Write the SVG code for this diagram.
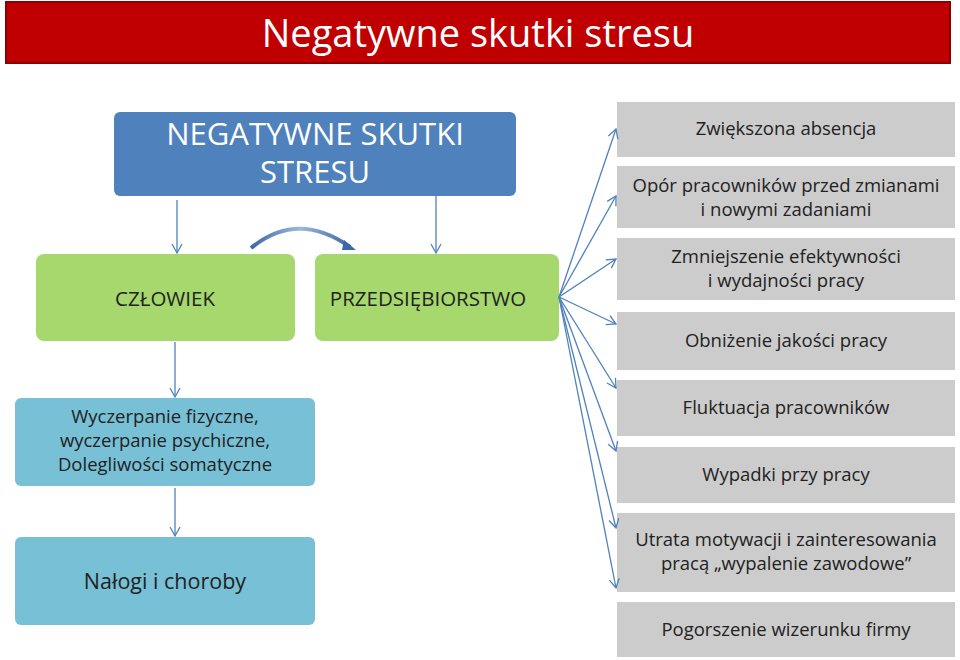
<svg xmlns="http://www.w3.org/2000/svg" width="960" height="660" viewBox="0 0 960 660">
<defs>
<style>
text{font-family:"Open Sans","Liberation Sans",sans-serif;text-anchor:middle}
.g rect{fill:#cccccc}
.g text{font-size:18.5px;fill:#222}
.c line{stroke:#4f81bd;stroke-width:1.3;fill:none}
</style>
<marker id="a" markerWidth="12" markerHeight="12" refX="10" refY="6" orient="auto" markerUnits="userSpaceOnUse"><path d="M1,1 L10,6 L1,11" fill="none" stroke="#4f81bd" stroke-width="1.3"/></marker>
<linearGradient id="cg" x1="0" x2="1"><stop offset="0" stop-color="#3a68a8"/><stop offset="0.5" stop-color="#9fb8da"/><stop offset="1" stop-color="#3a68a8"/></linearGradient>
</defs>
<rect x="6" y="2" width="944" height="61" fill="#c00000" stroke="#8b0000" stroke-width="2"/>
<text x="478" y="47" font-size="38" fill="#fff">Negatywne skutki stresu</text>
<g id="n-main"><rect x="114" y="112" width="402" height="84" rx="6" fill="#4f81bd"/><text x="315" y="145" font-size="31" fill="#fff">NEGATYWNE SKUTKI</text><text x="315" y="183" font-size="31" fill="#fff">STRESU</text></g>
<g id="n-czl"><rect x="36" y="254" width="259" height="87" rx="8" fill="#a6d86e"/><text x="165" y="306" font-size="20.5" fill="#222">CZŁOWIEK</text></g>
<g id="n-prz"><rect x="315" y="254" width="244" height="87" rx="8" fill="#a6d86e"/><text x="428" y="306" font-size="20.5" fill="#222">PRZEDSIĘBIORSTWO</text></g>
<g id="n-wyc"><rect x="15" y="398" width="300" height="88" rx="6" fill="#77c0d6"/><text x="165" y="423" font-size="18.5" fill="#222">Wyczerpanie fizyczne,</text><text x="165" y="447" font-size="18.5" fill="#222">wyczerpanie psychiczne,</text><text x="165" y="471" font-size="18.5" fill="#222">Dolegliwości somatyczne</text></g>
<g id="n-nal"><rect x="15" y="537" width="300" height="88" rx="6" fill="#77c0d6"/><text x="165" y="589" font-size="21.5" fill="#222">Nałogi i choroby</text></g>
<g class="g">
<g id="g1"><rect x="617" y="102" width="338" height="55"/><text x="786" y="135">Zwiększona absencja</text></g>
<g id="g2"><rect x="617" y="166" width="338" height="62"/><text x="786" y="192">Opór pracowników przed zmianami</text><text x="786" y="216">i nowymi zadaniami</text></g>
<g id="g3"><rect x="617" y="238" width="338" height="62"/><text x="786" y="263">Zmniejszenie efektywności</text><text x="786" y="287">i wydajności pracy</text></g>
<g id="g4"><rect x="617" y="312" width="338" height="58"/><text x="786" y="347">Obniżenie jakości pracy</text></g>
<g id="g5"><rect x="617" y="380" width="338" height="56"/><text x="786" y="414">Fluktuacja pracowników</text></g>
<g id="g6"><rect x="617" y="447" width="338" height="56"/><text x="786" y="481">Wypadki przy pracy</text></g>
<g id="g7"><rect x="617" y="513" width="338" height="79"/><text x="786" y="546">Utrata motywacji i zainteresowania</text><text x="786" y="570">pracą „wypalenie zawodowe”</text></g>
<g id="g8"><rect x="617" y="602" width="338" height="55"/><text x="786" y="636">Pogorszenie wizerunku firmy</text></g>
</g>
<g class="c">
<line x1="177" y1="200" x2="177" y2="253" marker-end="url(#a)"/>
<line x1="436" y1="196" x2="436" y2="253" marker-end="url(#a)"/>
<line x1="175" y1="342" x2="175" y2="397" marker-end="url(#a)"/>
<line x1="175" y1="488" x2="175" y2="536" marker-end="url(#a)"/>
<line x1="559" y1="297" x2="616" y2="129" marker-end="url(#a)"/>
<line x1="559" y1="297" x2="616" y2="196" marker-end="url(#a)"/>
<line x1="559" y1="297" x2="616" y2="259" marker-end="url(#a)"/>
<line x1="559" y1="297" x2="616" y2="324" marker-end="url(#a)"/>
<line x1="559" y1="297" x2="616" y2="388" marker-end="url(#a)"/>
<line x1="559" y1="297" x2="616" y2="451" marker-end="url(#a)"/>
<line x1="559" y1="297" x2="616" y2="528" marker-end="url(#a)"/>
<line x1="559" y1="297" x2="616" y2="588" marker-end="url(#a)"/>
<path d="M251,248 Q298,210 350,247" fill="none" stroke="url(#cg)" stroke-width="4"/>
<path d="M344,240 L356,250 L342,250 Z" fill="#3a68a8"/>
</g>
</svg>
